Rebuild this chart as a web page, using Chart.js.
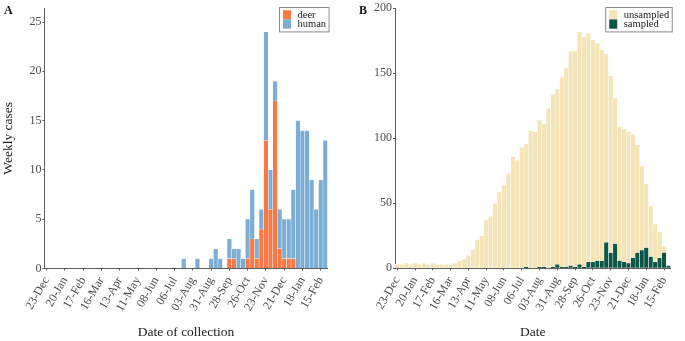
<!DOCTYPE html>
<html lang="en">
<head>
<meta charset="UTF-8">
<title>Weekly cases</title>
<style>
  body { margin: 0; background: #fff; }
  #wrap { position: relative; width: 685px; height: 341px; }
  canvas { position: absolute; top: 0; }
  .tag { position: absolute; top: 4px; font: bold 12px "Liberation Serif", serif; color: #111; line-height: 12px; }
</style>
</head>
<body>
<div id="wrap">
  <canvas id="chartA" width="343" height="341" style="left:0"></canvas>
  <canvas id="chartB" width="342" height="341" style="left:343px"></canvas>
  <div class="tag" style="left:4px">A</div>
  <div class="tag" style="left:359px">B</div>
</div>
<script src="https://cdn.jsdelivr.net/npm/chart.js"></script>
<script>
    // weekly bins, 23-Dec-2019 to 22-Feb-2021
    const weeks = [
        '23-Dec', '30-Dec', '06-Jan', '13-Jan', '20-Jan', '27-Jan', '03-Feb', '10-Feb',
        '17-Feb', '24-Feb', '02-Mar', '09-Mar', '16-Mar', '23-Mar', '30-Mar', '06-Apr',
        '13-Apr', '20-Apr', '27-Apr', '04-May', '11-May', '18-May', '25-May', '01-Jun',
        '08-Jun', '15-Jun', '22-Jun', '29-Jun', '06-Jul', '13-Jul', '20-Jul', '27-Jul',
        '03-Aug', '10-Aug', '17-Aug', '24-Aug', '31-Aug', '07-Sep', '14-Sep', '21-Sep',
        '28-Sep', '05-Oct', '12-Oct', '19-Oct', '26-Oct', '02-Nov', '09-Nov', '16-Nov',
        '23-Nov', '30-Nov', '07-Dec', '14-Dec', '21-Dec', '28-Dec', '04-Jan', '11-Jan',
        '18-Jan', '25-Jan', '01-Feb', '08-Feb', '15-Feb', '22-Feb'
    ];
    const tickEvery = 4; // label every 4th week

    // panel A
    const deer = [
        0, 0, 0, 0, 0, 0, 0, 0, 0, 0, 0, 0, 0, 0, 0, 0, 0, 0, 0, 0,
        0, 0, 0, 0, 0, 0, 0, 0, 0, 0, 0, 0, 0, 0, 0, 0, 0, 0, 0, 0,
        1, 1, 0, 0, 1, 3, 1, 4, 13, 6, 17, 2, 1, 1, 1, 0, 0, 0, 0, 0, 0, 0
    ];
    const human = [
        0, 0, 0, 0, 0, 0, 0, 0, 0, 0, 0, 0, 0, 0, 0, 0, 0, 0, 0, 0,
        0, 0, 0, 0, 0, 0, 0, 0, 0, 0, 1, 0, 0, 1, 0, 0, 1, 2, 1, 0,
        2, 1, 2, 1, 4, 5, 2, 2, 11, 4, 2, 4, 4, 4, 7, 15, 14, 14, 9, 6, 9, 13
    ];

    // panel B
    const sampled = [
        0, 0, 0, 0, 0, 0, 0, 0, 0, 0, 0, 0, 0, 0, 0, 0, 0, 0, 0, 0,
        0, 0, 0, 0, 0, 0, 0, 0, 0, 1, 0, 0, 1, 1, 0, 1, 3, 1, 1, 2,
        1, 3, 1, 5, 5, 6, 6, 20, 12, 19, 6, 5, 4, 8, 12, 14, 16, 9, 5, 8, 12, 2
    ];
    const unsampled = [
        3, 3, 4, 3, 4, 3, 4, 3, 4, 3, 3, 3, 3, 4, 6, 7, 10, 14, 22, 25,
        37, 40, 50, 59, 64, 73, 86, 83, 93, 95, 106, 105, 113, 110, 123, 133, 135, 146, 153, 165,
        166, 179, 177, 176, 171, 167, 162, 145, 136, 112, 103, 102, 101, 95, 83, 65, 49, 39, 29, 20, 5, 0
    ];

    const axisCol = '#5e5e5e';
    const tickCol = '#4d4d4d';
    const titleCol = '#1a1a1a';
    const tickFont = { family: '"Liberation Serif", serif', size: 12 };
    const titleFont = { family: '"Liberation Serif", serif', size: 13.5 };

    // boxed legend in the top right corner
    const boxLegend = {
        id: 'boxLegend',
        afterDraw(chart, args, opts) {
            const ctx = chart.ctx;
            const area = chart.chartArea;
            const items = opts.order.map(i => chart.data.datasets[i]);
            ctx.save();
            ctx.font = '10.5px "Liberation Serif", serif';
            const textW = Math.max(...items.map(d => ctx.measureText(d.label).width));
            const rowH = 9.2, sw = 8, padL = 3.5, gap = 6.5, padR = 3;
            const w = padL + sw + gap + textW + padR;
            const h = rowH * items.length + 6;
            const right = area.right + 1.5, top = 7.5;
            const left = right - w;
            ctx.fillStyle = '#fff';
            ctx.fillRect(left, top, w, h);
            ctx.strokeStyle = '#8c8c8c';
            ctx.lineWidth = 1;
            ctx.strokeRect(left, top, w, h);
            items.forEach((d, k) => {
                const y = top + 2.8 + k * rowH;
                ctx.fillStyle = d.backgroundColor;
                ctx.fillRect(left + padL, y, sw, rowH);
                ctx.fillStyle = titleCol;
                ctx.textBaseline = 'middle';
                ctx.fillText(d.label, left + padL + sw + gap, y + rowH / 2 + 0.5);
            });
            ctx.restore();
        }
    };

    function makeChart(id, datasets, opts) {
        return new Chart(document.getElementById(id), {
            type: 'bar',
            data: { labels: weeks, datasets: datasets },
            options: {
                responsive: false,
                animation: false,
                devicePixelRatio: 1,
                layout: { padding: opts.padding },
                datasets: {
                    bar: { categoryPercentage: 1, barPercentage: 1, borderColor: '#fff', borderWidth: 0.5 }
                },
                plugins: {
                    legend: { display: false },
                    tooltip: { enabled: false },
                    boxLegend: { order: opts.legendOrder }
                },
                scales: {
                    x: {
                        stacked: true,
                        afterFit: s => { s.height = opts.xHeight; },
                        border: { color: axisCol },
                        grid: {
                            offset: false,
                            drawOnChartArea: false,
                            tickLength: 2,
                            color: c => c.index % tickEvery === 0 ? axisCol : 'rgba(0,0,0,0)'
                        },
                        ticks: {
                            autoSkip: false,
                            minRotation: 60,
                            maxRotation: 60,
                            padding: 4,
                            color: tickCol,
                            font: tickFont,
                            callback: function (v, i) {
                                return i % tickEvery === 0 ? this.getLabelForValue(v) : '';
                            }
                        },
                        title: { display: true, text: opts.xTitle, color: titleCol, font: titleFont, padding: 0 }
                    },
                    y: {
                        stacked: true,
                        min: 0,
                        max: opts.yMax,
                        afterFit: s => { s.width = opts.yWidth; },
                        border: { color: axisCol },
                        grid: { drawOnChartArea: false, tickLength: 2, color: axisCol },
                        ticks: { stepSize: opts.yStep, includeBounds: false, padding: 1, color: tickCol, font: tickFont },
                        title: { display: !!opts.yTitle, text: opts.yTitle || '', color: titleCol, font: titleFont, padding: 0 }
                    }
                }
            },
            plugins: [boxLegend]
        });
    }

    makeChart('chartA', [
        { label: 'deer', data: deer, backgroundColor: '#fa7846' },
        { label: 'human', data: human, backgroundColor: '#7aaed4' }
    ], {
        padding: { left: 0, right: 15.4, top: 7.3, bottom: 0 },
        xHeight: 72.5, yWidth: 44.4, yMax: 26.4, yStep: 5,
        xTitle: 'Date of collection', yTitle: 'Weekly cases',
        legendOrder: [0, 1]
    });

    makeChart('chartB', [
        { label: 'sampled', data: sampled, backgroundColor: '#0c5547' },
        { label: 'unsampled', data: unsampled, backgroundColor: '#f4e4b6' }
    ], {
        padding: { left: 0, right: 4.7, top: 8.3, bottom: 0 },
        xHeight: 72.7, yWidth: 52, yMax: 200, yStep: 50,
        xTitle: 'Date',
        legendOrder: [1, 0]
    });
</script>
</body>
</html>
